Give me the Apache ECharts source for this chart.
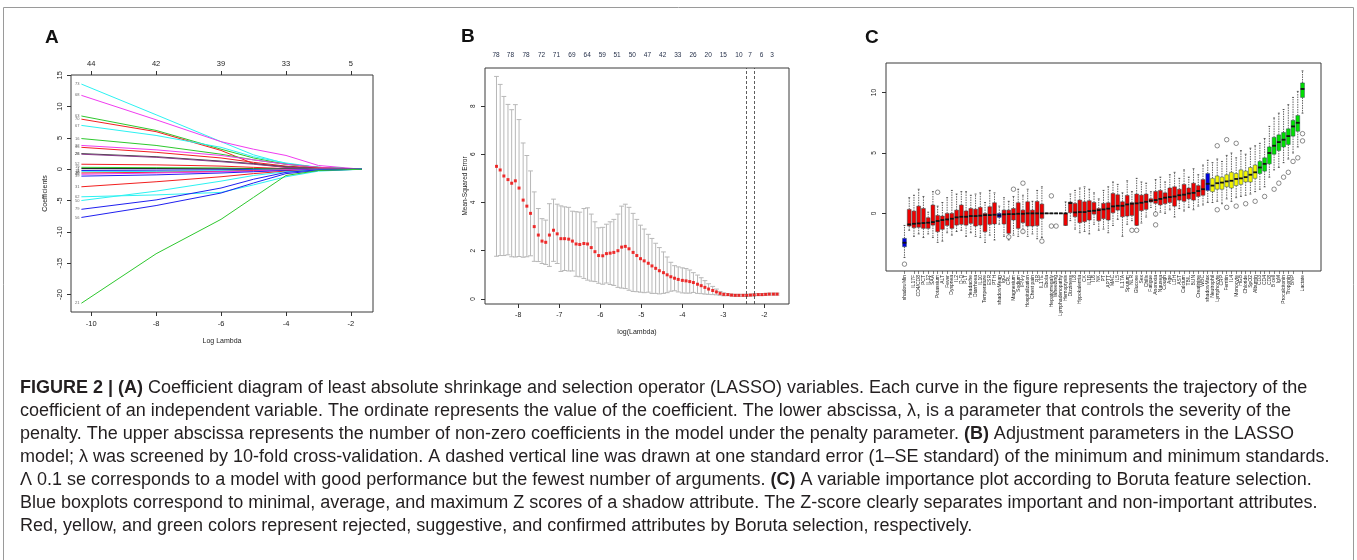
<!DOCTYPE html>
<html>
<head>
<meta charset="utf-8">
<script src="https://cdn.jsdelivr.net/npm/echarts@6/dist/echarts.min.js"></script>
<style>
  html, body { margin: 0; padding: 0; background: #fff; }
  #chart { width: 1357px; height: 560px; }
</style>
</head>
<body>
<div id="chart"></div>
<script>
// ---- panel A: lasso coefficient paths ----
const lambdaA = [-10.3, -8, -6, -5, -4, -3, -1.66]
const topTicksA = [-10, -8, -6, -4, -2]
const topLabelsA = ['44', '42', '39', '33', '5']
const coefLabelA = ['73', '68', '63', '70', '67', '16', '22', '35', '28', '26', '52', '19', '4', '11', '8', '30', '45', '39', '31', '62', '50', '79', '56', '21']
const coefA = [
  [13.6, 8.7, 4.4, 2.3, 0.9, 0.3, 0],
  [11.8, 7.9, 4.4, 3.2, 2.2, 0.6, 0],
  [8.5, 6.2, 3.2, 1.8, 0.8, 0.3, 0],
  [8.0, 6.0, 3.0, 0.9, 0.3, 0.1, 0],
  [7.0, 5.4, 3.5, 2.0, 1.0, 0.3, 0],
  [4.9, 3.8, 2.4, 1.5, 0.8, 0.3, 0],
  [3.8, 3.1, 2.2, 1.5, 0.8, 0.3, 0],
  [3.5, 2.7, 1.8, 1.1, 0.5, 0.2, 0],
  [2.5, 2.0, 1.3, 0.9, 0.4, 0.1, 0],
  [2.4, 1.9, 1.2, 0.8, 0.3, 0.1, 0],
  [0.8, 0.7, 0.5, 0.3, 0.1, 0, 0],
  [0.3, 0.25, 0.2, 0.1, 0.05, 0, 0],
  [0.1, 0.1, 0.05, 0.02, 0, 0, 0],
  [-0.2, -0.15, -0.1, -0.05, 0, 0, 0],
  [-0.4, -0.35, -0.25, -0.15, -0.05, 0, 0],
  [-0.6, -0.5, -0.35, -0.2, -0.1, 0, 0],
  [-0.8, -0.6, -0.4, -0.3, -0.1, 0, 0],
  [-1.1, -0.9, -0.6, -0.4, -0.2, -0.05, 0],
  [-2.8, -2.0, -1.2, -0.7, -0.3, -0.1, 0],
  [-4.4, -4.1, -3.7, -2.5, -1.2, -0.3, 0],
  [-5.0, -3.5, -1.9, -1.0, -0.4, -0.1, 0],
  [-6.4, -4.9, -3.0, -1.6, -0.5, -0.1, 0],
  [-7.7, -5.8, -3.8, -2.2, -0.7, -0.2, 0],
  [-21.4, -13.5, -8.0, -4.5, -1.0, -0.2, 0]
]

// ---- panel B: cross-validation curve ----
const lambdaB = [
  -8.53, -8.44, -8.35, -8.25, -8.16, -8.07, -7.98, -7.88, -7.79, -7.70,
  -7.61, -7.51, -7.42, -7.33, -7.24, -7.14, -7.05, -6.96, -6.87, -6.77,
  -6.68, -6.59, -6.50, -6.40, -6.31, -6.22, -6.13, -6.04, -5.94, -5.85,
  -5.76, -5.67, -5.57, -5.48, -5.39, -5.30, -5.20, -5.11, -5.02, -4.93,
  -4.83, -4.74, -4.65, -4.56, -4.46, -4.37, -4.28, -4.19, -4.10, -4.00,
  -3.91, -3.82, -3.73, -3.63, -3.54, -3.45, -3.36, -3.26, -3.17, -3.08,
  -2.99, -2.89, -2.80, -2.71, -2.62, -2.52, -2.43, -2.34, -2.25, -2.15,
  -2.06, -1.97, -1.88, -1.78, -1.69
]
const mseB = [
  5.5, 5.35, 5.1, 4.95, 4.8, 4.9, 4.6, 4.1, 3.85, 3.55,
  3.0, 2.65, 2.4, 2.35, 2.65, 2.85, 2.7, 2.5, 2.5, 2.48,
  2.4, 2.28, 2.26, 2.3, 2.28, 2.13, 1.96, 1.8, 1.79, 1.88,
  1.9, 1.93, 2.0, 2.15, 2.18, 2.08, 1.93, 1.8, 1.67, 1.58,
  1.48, 1.37, 1.27, 1.17, 1.09, 1.0, 0.92, 0.86, 0.81, 0.77,
  0.75, 0.72, 0.68, 0.61, 0.55, 0.48, 0.41, 0.35, 0.29, 0.23,
  0.19, 0.18, 0.16, 0.15, 0.15, 0.15, 0.15, 0.16, 0.17, 0.18,
  0.18, 0.19, 0.2, 0.2, 0.2
]
const sdB = [
  3.73, 3.55, 3.3, 3.12, 3.05, 3.16, 2.84, 2.37, 2.1, 1.76,
  1.44, 1.1, 0.93, 0.92, 1.3, 1.29, 1.23, 1.36, 1.32, 1.32,
  1.24, 1.34, 1.34, 1.45, 1.5, 1.39, 1.24, 1.15, 1.18, 1.22,
  1.3, 1.37, 1.52, 1.7, 1.75, 1.72, 1.62, 1.5, 1.39, 1.32,
  1.2, 1.14, 1.04, 0.96, 0.86, 0.74, 0.6, 0.52, 0.52, 0.52,
  0.51, 0.48, 0.41, 0.38, 0.33, 0.28, 0.22, 0.17, 0.12, 0.08,
  0.06, 0.04, 0.04, 0.04, 0.04, 0.04, 0.04, 0.04, 0.04, 0.04,
  0.04, 0.04, 0.04, 0.04, 0.04
]
const nzeroLambdaB = [-8.54, -8.19, -7.81, -7.43, -7.07, -6.69, -6.32, -5.95, -5.59, -5.22, -4.85, -4.48, -4.11, -3.74, -3.37, -3.0, -2.62, -2.35, -2.07, -1.81]
const nzeroB = ['78', '78', '78', '72', '71', '69', '64', '59', '51', '50', '47', '42', '33', '26', '20', '15', '10', '7', '6', '3']
const lambdaMinB = -2.44
const lambda1seB = -2.24

// ---- panel C: Boruta importance ----
const namesC = [
  'shadowMin', 'Myalgia', 'IL17F', 'CD4/CD8', 'PCT', 'IL12', 'SAA', 'Potassium', 'ALT', 'Fever',
  'Dyspnea', 'IL2', 'D-D', 'PLT', 'Headache', 'Diarrhoea', 'IL10', 'Temperature', 'ESR', 'PTH',
  'shadowMean', 'IgG', 'CRL', 'Magnesium', 'Sodium', 'IFN-γ', 'Hospitalization', 'Chest pain', 'RR', 'IL17E',
  'Ebola', 'Hepatomegaly', 'Wheezing', 'Lymphadenopathy', 'Hemoptysis', 'Dizziness', 'IL8', 'Hypokalemia', 'CK', 'IL1β',
  'IL6', 'NK', 'PT', 'APTT', 'MAC', 'IL5', 'IL17A', 'Sputum', 'NLR', 'Glucose',
  'Sex', 'Chills', 'Fatigue', 'Anorexia', 'Nausea', 'Cough', 'Age', 'LDH', 'AST', 'Calcium',
  'TBIL', 'BUN', 'Creatinine', 'WBC', 'shadowMax', 'Neutrophil', 'Lymphocyte', 'CRP', 'Ferritin', 'IL4',
  'Monocyte', 'HGB', 'Chloride', 'SpO2', 'Albumin', 'CD3', 'CD4', 'CD8', 'B cell', 'IgM',
  'Procalcitonin', 'Troponin', 'BNP', 'FIB', 'Lactate'
]
const decisionC = [
  'S', 'R', 'R', 'R', 'R', 'R', 'R', 'R', 'R', 'R',
  'R', 'R', 'R', 'R', 'R', 'R', 'R', 'R', 'R', 'R',
  'S', 'R', 'R', 'R', 'R', 'R', 'R', 'R', 'R', 'R',
  'R', 'R', 'R', 'R', 'R', 'R', 'R', 'R', 'R', 'R',
  'R', 'R', 'R', 'R', 'R', 'R', 'R', 'R', 'R', 'R',
  'R', 'R', 'R', 'R', 'R', 'R', 'R', 'R', 'R', 'R',
  'R', 'R', 'R', 'R', 'S', 'T', 'T', 'T', 'T', 'T',
  'T', 'T', 'T', 'T', 'T', 'C', 'C', 'C', 'C', 'C',
  'C', 'C', 'C', 'C', 'C'
]
const minC = [
  -3.65, -1.4, -1.9, -1.7, -2.0, -1.7, -2.0, -2.4, -2.3, -1.6,
  -1.8, -1.5, -1.4, -1.9, -1.6, -1.9, -2.0, -2.4, -1.8, -2.2,
  -0.9, -1.9, -2.2, -1.8, -1.9, -1.6, -1.9, -1.7, -2.1, -2.0,
  0, 0, 0, 0, -1.0, -0.6, -1.3, -1.6, -1.5, -1.7,
  -0.9, -1.4, -1.3, -1.6, -1.0, -0.5, -1.9, -0.9, -0.6, -1.0,
  -0.8, -0.3, 0.5, -0.2, 0.1, 0.0, 0.3, -0.3, 0.4, 0.2,
  0.5, 0.3, 0.6, 0.7, 0.9, 0.9, 1.0, 0.8, 1.2, 1.0,
  1.3, 1.4, 1.5, 1.6, 1.8, 2.0, 2.2, 3.0, 3.6, 3.8,
  4.2, 4.5, 5.0, 5.5, 8.3
]
const q1C = [
  -2.76, -1.05, -1.19, -1.15, -1.24, -1.24, -0.97, -1.52, -1.32, -1.0,
  -1.24, -0.97, -0.91, -0.97, -0.83, -1.05, -0.97, -1.52, -0.91, -0.88,
  -0.33, -0.88, -1.65, -0.55, -1.24, -0.77, -1.05, -1.05, -1.02, -0.41,
  0, 0, 0, 0, -1.0, 0.05, -0.28, -0.77, -0.69, -0.55,
  -0.06, -0.61, -0.44, -0.55, 0.05, 0.27, -0.28, -0.22, -0.17, -0.99,
  0.22, 0.33, 0.94, 0.83, 0.7, 0.8, 0.9, 0.6, 1.1, 1.0,
  1.2, 1.1, 1.4, 1.5, 1.9, 1.8, 2.0, 2.0, 2.2, 2.1,
  2.3, 2.4, 2.6, 2.6, 2.9, 3.3, 3.5, 4.1, 4.9, 5.2,
  5.5, 5.7, 6.4, 6.8, 9.6
]
const medC = [
  -2.43, -0.91, -0.86, -0.83, -0.8, -0.77, -0.72, -0.63, -0.55, -0.5,
  -0.44, -0.33, -0.28, -0.28, -0.22, -0.22, -0.19, -0.14, -0.14, -0.11,
  -0.17, -0.08, -0.06, -0.06, -0.03, -0.03, 0, 0, 0, 0,
  0, 0, 0, 0, 0, 0.85, 0.08, 0.11, 0.11, 0.19,
  0.22, 0.27, 0.33, 0.39, 0.58, 0.63, 0.63, 0.74, 0.8, 0.83,
  0.88, 0.96, 1.05, 1.1, 1.2, 1.3, 1.35, 1.4, 1.5, 1.55,
  1.65, 1.7, 1.85, 2.0, 2.45, 2.3, 2.5, 2.55, 2.65, 2.7,
  2.85, 2.9, 3.0, 3.2, 3.4, 3.8, 4.1, 5.0, 5.6, 5.9,
  6.1, 6.4, 7.2, 7.5, 10.3
]
const q3C = [
  -2.07, 0.33, 0.19, 0.6, 0.41, -0.36, 0.69, -0.17, -0.22, 0.0,
  0.0, 0.27, 0.69, 0.2, 0.41, 0.35, 0.5, 0.0, 0.55, 0.88,
  0.0, 0.27, 0.27, 0.41, 0.88, 0.27, 0.96, 0.27, 0.99, 0.77,
  0, 0, 0, 0, 0, 0.94, 0.83, 1.1, 0.96, 1.05,
  0.91, 0.41, 0.83, 0.88, 1.65, 1.54, 0.96, 1.49, 0.88, 1.6,
  1.51, 1.6, 1.21, 1.82, 1.9, 1.7, 2.1, 2.2, 2.0, 2.4,
  2.1, 2.5, 2.3, 2.8, 3.3, 2.9, 3.1, 3.0, 3.2, 3.4,
  3.3, 3.6, 3.5, 3.8, 4.0, 4.3, 4.6, 5.5, 6.3, 6.5,
  6.7, 7.0, 7.7, 8.1, 10.8
]
const maxC = [
  -1.0, 1.3, 1.5, 2.0, 1.4, 0.1, 1.8, 0.6, 0.9, 1.3,
  1.9, 1.6, 1.8, 1.8, 1.5, 1.6, 1.7, 0.9, 1.9, 1.7,
  0.6, 1.3, 1.0, 1.4, 2.0, 1.5, 2.0, 1.0, 1.9, 2.2,
  0, 0, 0, 0, 0.95, 1.6, 1.9, 2.1, 2.2, 2.0,
  1.7, 1.2, 1.9, 2.2, 2.6, 2.4, 1.7, 2.7, 1.8, 2.9,
  2.6, 2.5, 1.8, 2.8, 3.0, 2.6, 3.2, 3.4, 2.9, 3.6,
  3.0, 3.7, 3.2, 4.0, 4.4, 4.2, 4.5, 4.3, 4.8, 5.0,
  4.6, 5.2, 4.9, 5.4, 5.6, 5.8, 6.2, 7.2, 7.9, 8.3,
  8.6, 9.0, 9.6, 10.1, 11.8
]
const outliersC = [
  [0, -4.2], [7, 1.75], [22, -1.95], [23, 2.0], [25, 2.5], [25, -1.5], [29, -2.3],
  [31, 1.45], [31, -1.05], [32, -1.05], [48, -1.4], [49, -1.4], [53, -0.05], [53, -0.95],
  [66, 0.3], [66, 5.6], [68, 0.5], [68, 6.1], [70, 0.6], [70, 5.8], [72, 0.8], [74, 1.0],
  [76, 1.4], [78, 2.0], [79, 2.5], [80, 3.0], [81, 3.4], [82, 4.3], [83, 4.6], [84, 6.0], [84, 6.6]
]

const captionLines = [
  '{b|FIGURE 2 | (A)} Coefficient diagram of least absolute shrinkage and selection operator (LASSO) variables. Each curve in the figure represents the trajectory of the',
  'coefficient of an independent variable. The ordinate represents the value of the coefficient. The lower abscissa, λ, is a parameter that controls the severity of the',
  'penalty. The upper abscissa represents the number of non-zero coefficients in the model under the penalty parameter. {b|(B)} Adjustment parameters in the LASSO',
  'model; λ was screened by 10-fold cross-validation. A dashed vertical line was drawn at one standard error (1–SE standard) of the minimum and minimum standards.',
  'Λ 0.1 se corresponds to a model with good performance but the fewest number of arguments. {b|(C)} A variable importance plot according to Boruta feature selection.',
  'Blue boxplots correspond to minimal, average, and maximum Z scores of a shadow attribute. The Z-score clearly separates important and non-important attributes.',
  'Red, yellow, and green colors represent rejected, suggestive, and confirmed attributes by Boruta selection, respectively.'
]

// styles
const FONT = 'Liberation Sans, Arial, sans-serif'
const CAPTION_SIZE = 18
const lineColorsA = ['#2cf2f2', '#f03cf0', '#2ec82e', '#f22020', '#2cf2f2', '#2ec82e', '#f03cf0', '#f22020', '#444444', '#8a3c8a', '#f22020', '#2ec82e', '#111111', '#2020f0', '#2cf2f2', '#f22020', '#f03cf0', '#2020f0', '#f22020', '#2cf2f2', '#2cf2f2', '#2020f0', '#2020f0', '#2ec82e']
const boxFill = { S: '#0000e0', R: '#f00000', T: '#f5f500', C: '#00e000' }

const chart = echarts.init(document.getElementById('chart'), null, { renderer: 'canvas' })

const tickLabel = (size) => ({ fontFamily: FONT, fontSize: size, color: '#222' })
const frame = { show: true, borderColor: '#3a3a3a', borderWidth: 1, backgroundColor: 'transparent' }
const noLine = { show: false, onZero: false }

function errorBar(params, api) {
  const x = api.value(0)
  const m = api.value(1)
  const s = api.value(2)
  const top = api.coord([x, m + s])
  const bot = api.coord([x, m - s])
  const hw = 2.4
  const st = { stroke: '#b8b8b8', lineWidth: 1 }
  return {
    type: 'group',
    children: [
      { type: 'line', shape: { x1: top[0], y1: top[1], x2: bot[0], y2: bot[1] }, style: st },
      { type: 'line', shape: { x1: top[0] - hw, y1: top[1], x2: top[0] + hw, y2: top[1] }, style: st },
      { type: 'line', shape: { x1: bot[0] - hw, y1: bot[1], x2: bot[0] + hw, y2: bot[1] }, style: st }
    ]
  }
}

function boruta(params, api) {
  const i = api.value(0)
  const pMin = api.coord([i, api.value(1)])
  const pQ1 = api.coord([i, api.value(2)])
  const pMed = api.coord([i, api.value(3)])
  const pQ3 = api.coord([i, api.value(4)])
  const pMax = api.coord([i, api.value(5)])
  const w = api.size([1, 0])[0] * 0.8
  const x = pMed[0]
  const hw = w / 2
  const dash = { stroke: '#222', lineWidth: 0.7, lineDash: [1.5, 1] }
  const solid = { stroke: '#222', lineWidth: 0.7 }
  return {
    type: 'group',
    children: [
      { type: 'line', shape: { x1: x, y1: pQ3[1], x2: x, y2: pMax[1] }, style: dash },
      { type: 'line', shape: { x1: x, y1: pQ1[1], x2: x, y2: pMin[1] }, style: dash },
      { type: 'line', shape: { x1: x - hw / 2, y1: pMax[1], x2: x + hw / 2, y2: pMax[1] }, style: solid },
      { type: 'line', shape: { x1: x - hw / 2, y1: pMin[1], x2: x + hw / 2, y2: pMin[1] }, style: solid },
      {
        type: 'rect',
        shape: { x: x - hw, y: pQ3[1], width: w, height: pQ1[1] - pQ3[1] },
        style: { fill: boxFill[decisionC[i]], stroke: '#2a4a4a', lineWidth: 0.5 }
      },
      { type: 'line', shape: { x1: x - hw, y1: pMed[1], x2: x + hw, y2: pMed[1] }, style: { stroke: '#111', lineWidth: 1.8 } }
    ]
  }
}

const seriesA = coefA.map((vals, k) => ({
  type: 'line',
  xAxisIndex: 0,
  yAxisIndex: 0,
  symbol: 'none',
  silent: true,
  z: 2,
  lineStyle: { width: 1, color: lineColorsA[k] },
  data: vals.map((v, j) => [lambdaA[j], v])
}))

const option = {
  animation: false,
  backgroundColor: '#fff',
  grid: [
    { left: 71, top: 75, width: 302, height: 237, ...frame },
    { left: 485, top: 68, width: 304, height: 236, ...frame },
    { left: 886, top: 63, width: 435, height: 208, ...frame }
  ],
  xAxis: [
    {
      gridIndex: 0, type: 'value', min: -10.62, max: -1.32,
      name: 'Log Lambda', nameLocation: 'middle', nameGap: 26,
      nameTextStyle: { fontFamily: FONT, fontSize: 7, color: '#222' },
      axisLine: noLine, splitLine: { show: false },
      axisTick: { customValues: topTicksA, length: 4, lineStyle: { color: '#333' } },
      axisLabel: { customValues: topTicksA, margin: 8, ...tickLabel(7.5) }
    },
    {
      gridIndex: 0, type: 'value', position: 'top', min: -10.62, max: -1.32,
      axisLine: noLine, splitLine: { show: false },
      axisTick: { customValues: topTicksA, length: 4, lineStyle: { color: '#333' } },
      axisLabel: {
        customValues: topTicksA, margin: 7, ...tickLabel(7.5),
        formatter: (v) => topLabelsA[topTicksA.indexOf(v)]
      }
    },
    {
      gridIndex: 1, type: 'value', min: -8.81, max: -1.40,
      name: 'log(Lambda)', nameLocation: 'middle', nameGap: 25,
      nameTextStyle: { fontFamily: FONT, fontSize: 7, color: '#222' },
      axisLine: noLine, splitLine: { show: false },
      axisTick: { customValues: [-8, -7, -6, -5, -4, -3, -2], length: 4, lineStyle: { color: '#333' } },
      axisLabel: { customValues: [-8, -7, -6, -5, -4, -3, -2], margin: 8, ...tickLabel(7) }
    },
    {
      gridIndex: 1, type: 'value', position: 'top', min: -8.81, max: -1.40,
      axisLine: noLine, splitLine: { show: false }, axisTick: { show: false },
      axisLabel: {
        customValues: nzeroLambdaB, margin: 9, ...tickLabel(6.5), color: '#1f2a44',
        formatter: (v) => nzeroB[nzeroLambdaB.indexOf(v)]
      }
    },
    {
      gridIndex: 2, type: 'value', min: -3.9, max: 87.9,
      axisLine: noLine, splitLine: { show: false },
      axisTick: { customValues: namesC.map((_, i) => i), length: 3, lineStyle: { color: '#333', width: 0.6 } },
      axisLabel: {
        customValues: namesC.map((_, i) => i), rotate: 90, margin: 4,
        showMinLabel: true, showMaxLabel: true, hideOverlap: false,
        fontFamily: FONT, fontSize: 5, color: '#222',
        formatter: (v) => namesC[v]
      }
    }
  ],
  yAxis: [
    {
      gridIndex: 0, type: 'value', min: -22.8, max: 15.05,
      name: 'Coefficients', nameLocation: 'middle', nameGap: 22,
      nameTextStyle: { fontFamily: FONT, fontSize: 7, color: '#222' },
      axisLine: noLine, splitLine: { show: false },
      axisTick: { customValues: [-20, -15, -10, -5, 0, 5, 10, 15], length: 4, lineStyle: { color: '#333' } },
      axisLabel: { customValues: [-20, -15, -10, -5, 0, 5, 10, 15], rotate: 90, margin: 7, ...tickLabel(7.5) }
    },
    {
      gridIndex: 1, type: 'value', min: -0.21, max: 9.58,
      name: 'Mean-Squared Error', nameLocation: 'middle', nameGap: 13,
      nameTextStyle: { fontFamily: FONT, fontSize: 6.5, color: '#222' },
      axisLine: noLine, splitLine: { show: false },
      axisTick: { customValues: [0, 2, 4, 6, 8], length: 4, lineStyle: { color: '#333' } },
      axisLabel: { customValues: [0, 2, 4, 6, 8], rotate: 90, margin: 8, ...tickLabel(6.5) }
    },
    {
      gridIndex: 2, type: 'value', min: -4.77, max: 12.45,
      axisLine: noLine, splitLine: { show: false },
      axisTick: { customValues: [0, 5, 10], length: 4, lineStyle: { color: '#333' } },
      axisLabel: { customValues: [0, 5, 10], rotate: 90, margin: 8, ...tickLabel(6.5) }
    }
  ],
  series: [
    ...seriesA,
    {
      type: 'scatter',
      xAxisIndex: 0,
      yAxisIndex: 0,
      symbolSize: 0,
      silent: true,
      clip: false,
      label: { show: true, position: 'left', distance: 2, formatter: '{b}', fontFamily: FONT, fontSize: 4, color: '#444' },
      data: coefA.map((vals, k) => ({ name: coefLabelA[k], value: [lambdaA[0], vals[0]] }))
    },
    {
      type: 'custom',
      xAxisIndex: 2,
      yAxisIndex: 1,
      silent: true,
      renderItem: errorBar,
      data: lambdaB.map((x, i) => [x, mseB[i], sdB[i]]),
      z: 2
    },
    {
      type: 'scatter',
      xAxisIndex: 2,
      yAxisIndex: 1,
      symbol: 'rect',
      symbolSize: 3,
      silent: true,
      itemStyle: { color: '#f00000' },
      data: lambdaB.map((x, i) => [x, mseB[i]]),
      z: 3,
      markLine: {
        silent: true,
        symbol: 'none',
        label: { show: false },
        lineStyle: { color: '#333', type: [3, 2], width: 0.8 },
        data: [{ xAxis: lambdaMinB }, { xAxis: lambda1seB }]
      }
    },
    {
      type: 'custom',
      xAxisIndex: 4,
      yAxisIndex: 2,
      silent: true,
      renderItem: boruta,
      data: namesC.map((n, i) => [i, minC[i], q1C[i], medC[i], q3C[i], maxC[i]]),
      z: 2
    },
    {
      type: 'scatter',
      xAxisIndex: 4,
      yAxisIndex: 2,
      symbol: 'circle',
      symbolSize: 4.5,
      silent: true,
      itemStyle: { color: '#fff', borderColor: '#333', borderWidth: 0.7 },
      data: outliersC,
      z: 3
    }
  ],
  graphic: [
    { type: 'rect', shape: { x: 3.5, y: 7.5, width: 1350, height: 600 }, style: { fill: 'none', stroke: '#9a9a9a', lineWidth: 1 }, silent: true },
    { type: 'text', x: 45, y: 38, style: { text: 'A', font: 'bold 19px ' + FONT, fill: '#111', verticalAlign: 'middle' } },
    { type: 'text', x: 461, y: 37, style: { text: 'B', font: 'bold 19px ' + FONT, fill: '#111', verticalAlign: 'middle' } },
    { type: 'text', x: 865, y: 38, style: { text: 'C', font: 'bold 19px ' + FONT, fill: '#111', verticalAlign: 'middle' } },
    ...captionLines.map((t, k) => ({
      type: 'text',
      x: 20,
      y: [388, 411, 434, 457, 480, 503, 526][k],
      style: {
        text: t,
        fontFamily: FONT,
        fontSize: CAPTION_SIZE,
        fill: '#231f20',
        verticalAlign: 'middle',
        rich: { b: { fontFamily: FONT, fontSize: CAPTION_SIZE, fontWeight: 'bold', fill: '#231f20' } }
      }
    }))
  ]
}

chart.setOption(option)
</script>
</body>
</html>
